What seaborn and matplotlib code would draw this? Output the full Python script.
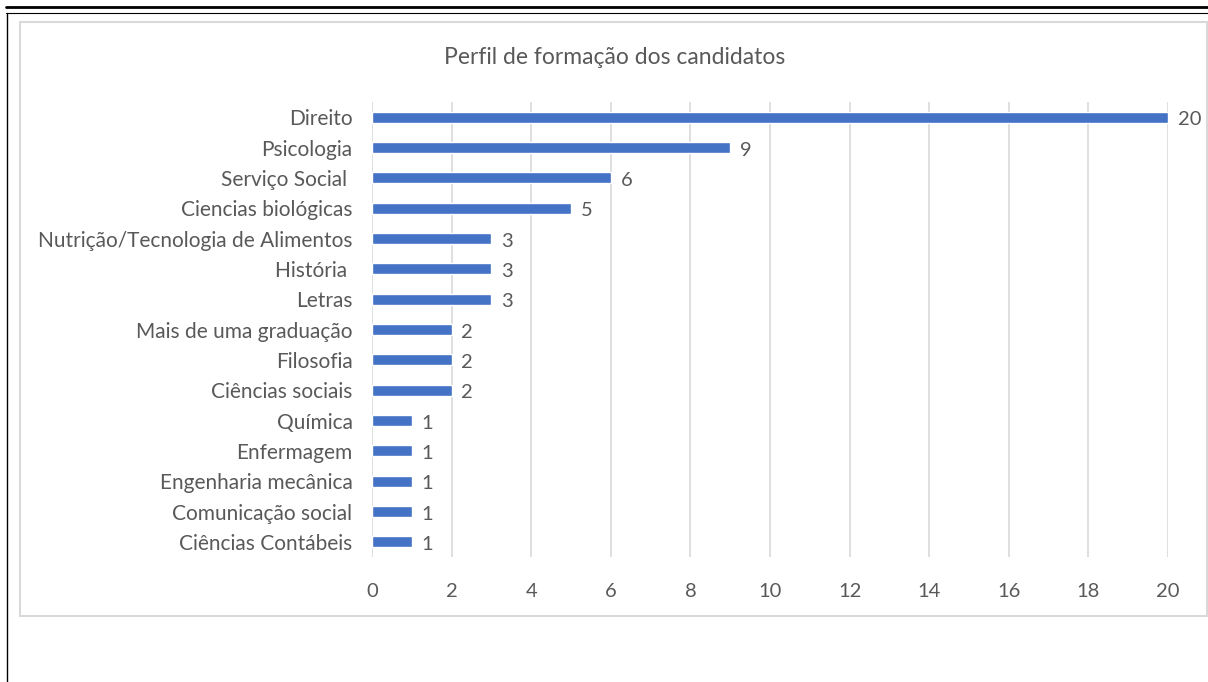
import pandas as pd
import matplotlib
matplotlib.use("Agg")
from matplotlib import pyplot as plt
from matplotlib.lines import Line2D
from matplotlib.patches import Rectangle
import seaborn as sns

cursos = ["Direito", "Psicologia", "Serviço Social ", "Ciencias biológicas",
          "Nutrição/Tecnologia de Alimentos", "História ", "Letras",
          "Mais de uma graduação", "Filosofia", "Ciências sociais", "Química",
          "Enfermagem", "Engenharia mecânica", "Comunicação social",
          "Ciências Contábeis"]
candidatos = [20, 9, 6, 5, 3, 3, 3, 2, 2, 2, 1, 1, 1, 1, 1]
ticks_x = list(range(0, 21, 2))

df = pd.DataFrame({"curso": cursos, "n": candidatos})

sns.set_style("white")
plt.rcParams["font.family"] = ["Lato", "DejaVu Sans"]
cinza = "#595959"

W, H = 1208, 682
fig = plt.figure(figsize=(W / 100, H / 100), dpi=100)
ax = fig.add_axes([372 / W, 1 - 557 / H, (1168 - 372) / W, (557 - 102) / H])

sns.barplot(data=df, x="n", y="curso", orient="h", color="#4472C4",
            width=0.36, saturation=1, ax=ax, zorder=3)
rotulos = ax.bar_label(ax.containers[0], padding=7, fontsize=14.5, color=cinza)
for r in rotulos:
    dx, dy = r.xyann
    r.xyann = (dx, dy - 2)

ax.set_xlim(0, 20)
ax.set_xticks(ticks_x)
ax.grid(axis="x", color="#d9d9d9", linewidth=1.2, zorder=0)
ax.set_axisbelow(True)
for s in ax.spines.values():
    s.set_visible(False)
ax.tick_params(axis="x", length=0, pad=19, labelsize=14.5, labelcolor=cinza)
ax.tick_params(axis="y", length=0, pad=14, labelsize=15, labelcolor=cinza)
ax.set_xlabel("")
ax.set_ylabel("")

fig.text(615 / W, 1 - 58 / H, "Perfil de formação dos candidatos",
         ha="center", va="center", fontsize=16.5, color=cinza)

# moldura do gráfico e linhas da página
fig.add_artist(Rectangle((20 / W, 1 - 616 / H), 1187 / W, 594 / H,
                         transform=fig.transFigure, fill=False,
                         edgecolor="#d9d9d9", linewidth=1.5))
fig.add_artist(Line2D([6 / W, 1], [1 - 7 / H] * 2, color="black", linewidth=2))
fig.add_artist(Line2D([6 / W, 1], [1 - 12.5 / H] * 2, color="black", linewidth=0.8))
fig.add_artist(Line2D([6.5 / W] * 2, [0, 1 - 12.5 / H], color="black", linewidth=1))

fig.savefig("out.png", dpi=100)
